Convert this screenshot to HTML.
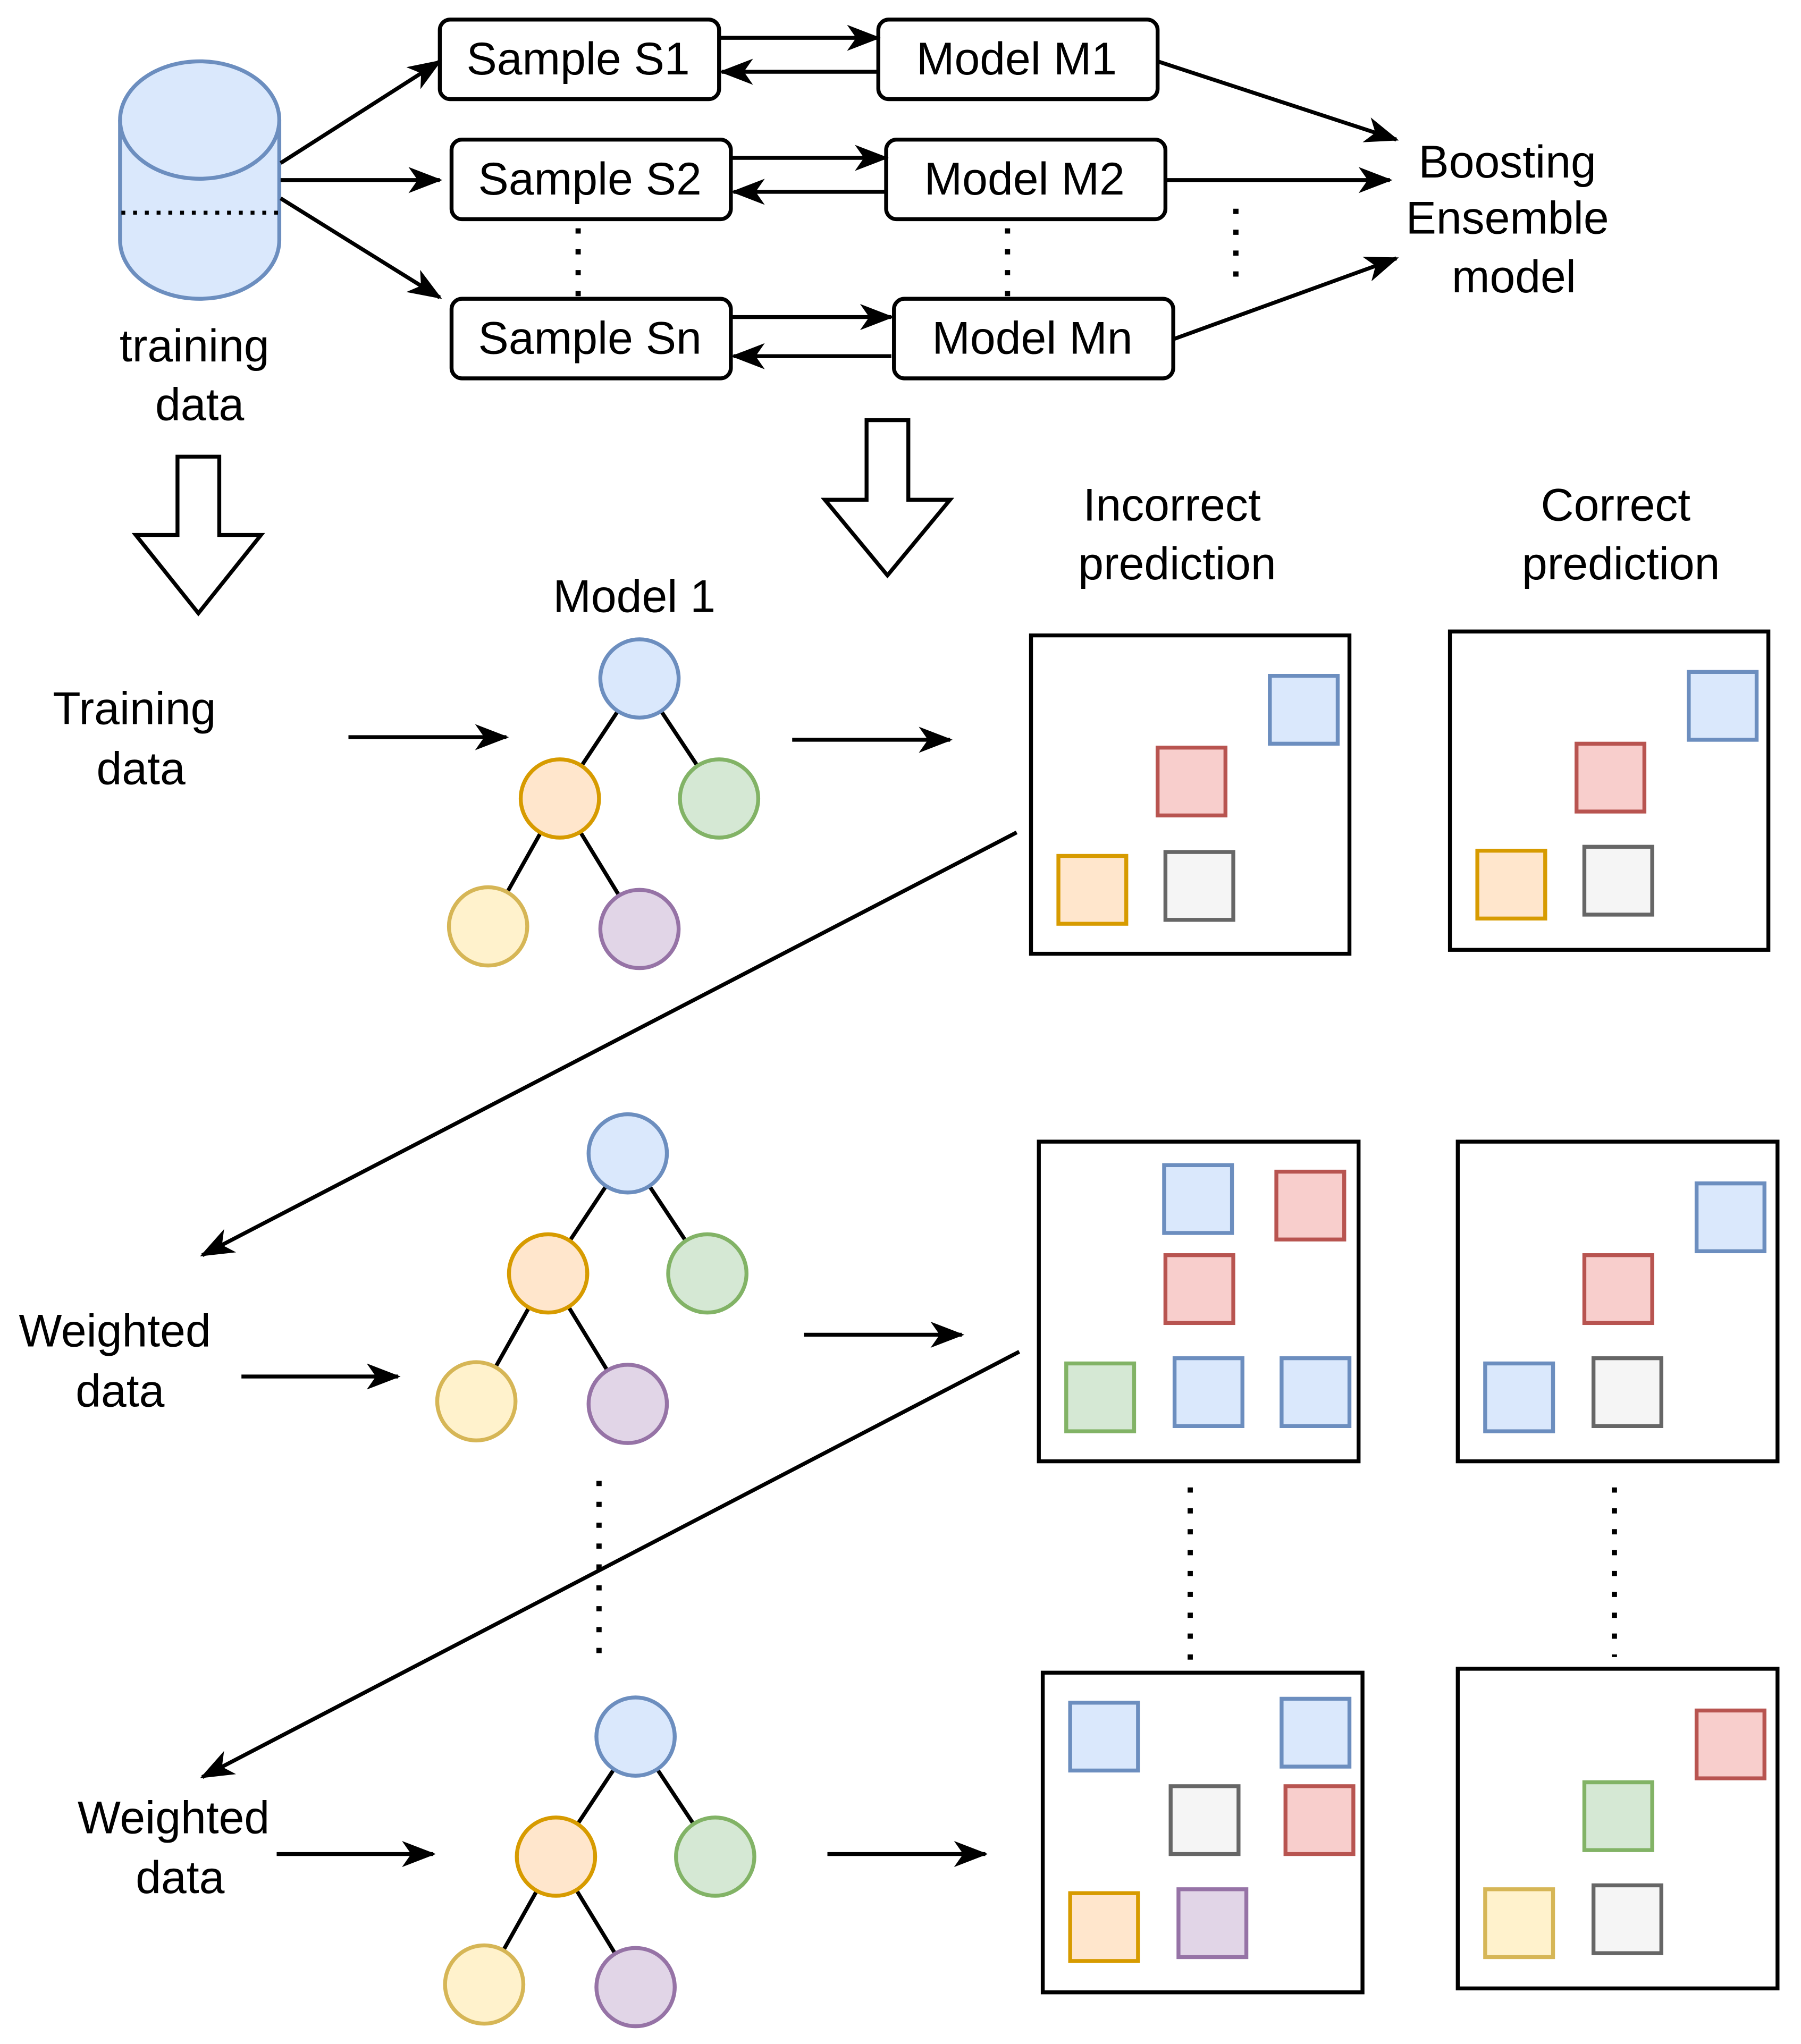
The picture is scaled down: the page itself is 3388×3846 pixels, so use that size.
<!DOCTYPE html>
<html><head><meta charset="utf-8"><style>html,body{margin:0;padding:0;background:#fff}svg{display:block}</style></head>
<body>
<svg width="3388" height="3846" viewBox="0 0 1380 1566.6" preserveAspectRatio="none" xmlns="http://www.w3.org/2000/svg" font-family="Liberation Sans, Arial, sans-serif">
<defs>
<marker id="a" viewBox="0 0 26 20" refX="24" refY="10" markerWidth="26" markerHeight="20" markerUnits="userSpaceOnUse" orient="auto">
<path d="M0,0 L26,10 L0,20 L7,10 Z" fill="#000"/></marker>
</defs>
<rect width="1380" height="1567" fill="#fff"/>
<g stroke="#000" stroke-width="3" fill="none">
<path d="M92,92 L92,184 A61,45 0 0 0 214,184 L214,92" fill="#dae8fc" stroke="#6c8ebf"/>
<ellipse cx="153" cy="92" rx="61" ry="45" fill="#dae8fc" stroke="#6c8ebf"/>
<line x1="93" y1="163" x2="213" y2="163" stroke="#000" stroke-dasharray="3,6"/>
<rect x="337" y="15" width="214" height="61" rx="8" fill="#fff"/>
<rect x="673" y="15" width="214" height="61" rx="8" fill="#fff"/>
<rect x="346" y="107" width="214" height="61" rx="8" fill="#fff"/>
<rect x="679" y="107" width="214" height="61" rx="8" fill="#fff"/>
<rect x="346" y="229" width="214" height="61" rx="8" fill="#fff"/>
<rect x="685" y="229" width="214" height="61" rx="8" fill="#fff"/>
<line x1="215" y1="125" x2="337" y2="47" marker-end="url(#a)"/>
<line x1="215" y1="138" x2="337" y2="138" marker-end="url(#a)"/>
<line x1="215" y1="152" x2="337" y2="228" marker-end="url(#a)"/>
<line x1="551" y1="29" x2="673" y2="29" marker-end="url(#a)"/>
<line x1="673" y1="55" x2="553" y2="55" marker-end="url(#a)"/>
<line x1="560" y1="121" x2="679" y2="121" marker-end="url(#a)"/>
<line x1="679" y1="147" x2="562" y2="147" marker-end="url(#a)"/>
<line x1="560" y1="243" x2="683" y2="243" marker-end="url(#a)"/>
<line x1="683" y1="273" x2="562" y2="273" marker-end="url(#a)"/>
<line x1="887" y1="47" x2="1070" y2="107" marker-end="url(#a)"/>
<line x1="893" y1="138" x2="1065" y2="138" marker-end="url(#a)"/>
<line x1="899" y1="260" x2="1070" y2="198" marker-end="url(#a)"/>
<g stroke-width="4" stroke-dasharray="4,12">
<line x1="443" y1="175" x2="443" y2="229"/>
<line x1="772" y1="175" x2="772" y2="229"/>
<line x1="947" y1="160" x2="947" y2="220"/>
<line x1="459" y1="1135" x2="459" y2="1268"/>
<line x1="912" y1="1140" x2="912" y2="1272"/>
<line x1="1237" y1="1140" x2="1237" y2="1270"/>
</g>
<path d="M136,350 L168,350 L168,410 L200,410 L152,470 L104,410 L136,410 Z" fill="#fff"/>
<path d="M664,322 L696,322 L696,383 L728,383 L680,441 L632,383 L664,383 Z" fill="#fff"/>
<line x1="267" y1="565" x2="388" y2="565" marker-end="url(#a)"/>
<line x1="607" y1="567" x2="728" y2="567" marker-end="url(#a)"/>
<line x1="779" y1="638" x2="155" y2="962" marker-end="url(#a)"/>
<line x1="185" y1="1055" x2="305" y2="1055" marker-end="url(#a)"/>
<line x1="616" y1="1023" x2="737" y2="1023" marker-end="url(#a)"/>
<line x1="781" y1="1036" x2="155" y2="1362" marker-end="url(#a)"/>
<line x1="212" y1="1421" x2="332" y2="1421" marker-end="url(#a)"/>
<line x1="634" y1="1421" x2="755" y2="1421" marker-end="url(#a)"/>
<rect x="790" y="487" width="244" height="244"/>
<rect x="1111" y="484" width="244" height="244"/>
<rect x="796" y="875" width="245" height="245"/>
<rect x="1117" y="875" width="245" height="245"/>
<rect x="799" y="1282" width="245" height="245"/>
<rect x="1117" y="1279" width="245" height="245"/>
</g>
<g stroke-width="3">
<g id="t1">
<g stroke="#000"><line x1="490" y1="520" x2="429" y2="612"/><line x1="490" y1="520" x2="551" y2="612"/><line x1="429" y1="612" x2="374" y2="710"/><line x1="429" y1="612" x2="490" y2="712"/></g>
<circle cx="490" cy="520" r="30" fill="#dae8fc" stroke="#6c8ebf"/>
<circle cx="429" cy="612" r="30" fill="#ffe6cc" stroke="#d79b00"/>
<circle cx="551" cy="612" r="30" fill="#d5e8d4" stroke="#82b366"/>
<circle cx="374" cy="710" r="30" fill="#fff2cc" stroke="#d6b656"/>
<circle cx="490" cy="712" r="30" fill="#e1d5e7" stroke="#9673a6"/>
</g>
<use href="#t1" transform="translate(-9,364)"/>
<use href="#t1" transform="translate(-3,811)"/>
</g>
<g stroke-width="3">
<g fill="#dae8fc" stroke="#6c8ebf">
<rect x="973" y="518" width="52" height="52"/><rect x="1294" y="515" width="52" height="52"/>
<rect x="892" y="893" width="52" height="52"/><rect x="900" y="1041" width="52" height="52"/><rect x="982" y="1041" width="52" height="52"/>
<rect x="1300" y="907" width="52" height="52"/><rect x="1138" y="1045" width="52" height="52"/>
<rect x="820" y="1305" width="52" height="52"/><rect x="982" y="1302" width="52" height="52"/>
</g>
<g fill="#f8cecc" stroke="#b85450">
<rect x="887" y="573" width="52" height="52"/><rect x="1208" y="570" width="52" height="52"/>
<rect x="978" y="898" width="52" height="52"/><rect x="893" y="962" width="52" height="52"/><rect x="1214" y="962" width="52" height="52"/>
<rect x="985" y="1369" width="52" height="52"/><rect x="1300" y="1311" width="52" height="52"/>
</g>
<g fill="#ffe6cc" stroke="#d79b00">
<rect x="811" y="656" width="52" height="52"/><rect x="1132" y="652" width="52" height="52"/><rect x="820" y="1451" width="52" height="52"/>
</g>
<g fill="#f5f5f5" stroke="#666">
<rect x="893" y="653" width="52" height="52"/><rect x="1214" y="649" width="52" height="52"/><rect x="1221" y="1041" width="52" height="52"/>
<rect x="897" y="1369" width="52" height="52"/><rect x="1221" y="1445" width="52" height="52"/>
</g>
<g fill="#d5e8d4" stroke="#82b366">
<rect x="817" y="1045" width="52" height="52"/><rect x="1214" y="1366" width="52" height="52"/>
</g>
<rect x="903" y="1448" width="52" height="52" fill="#e1d5e7" stroke="#9673a6"/>
<rect x="1138" y="1448" width="52" height="52" fill="#fff2cc" stroke="#d6b656"/>
</g>
<g font-size="35" fill="#000" text-anchor="middle">
<text x="443" y="57">Sample S1</text>
<text x="779" y="57">Model M1</text>
<text x="452" y="149">Sample S2</text>
<text x="785" y="149">Model M2</text>
<text x="452" y="271">Sample Sn</text>
<text x="791" y="271">Model Mn</text>
<text x="149" y="277">training</text>
<text x="153" y="322">data</text>
<text x="1155" y="136">Boosting</text>
<text x="1155" y="179">Ensemble</text>
<text x="1160" y="224">model</text>
<text x="898" y="399">Incorrect</text>
<text x="902" y="444">prediction</text>
<text x="1238" y="399">Correct</text>
<text x="1242" y="444">prediction</text>
<text x="486" y="469">Model 1</text>
<text x="103" y="555">Training</text>
<text x="108" y="601">data</text>
<text x="88" y="1032">Weighted</text>
<text x="92" y="1078">data</text>
<text x="133" y="1405">Weighted</text>
<text x="138" y="1451">data</text>
</g>
</svg>
</body></html>
